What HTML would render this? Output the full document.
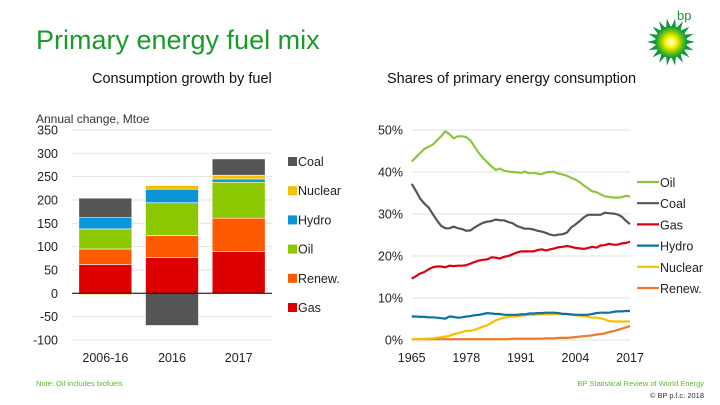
<!DOCTYPE html>
<html><head><meta charset="utf-8"><style>
body{margin:0;width:720px;height:405px;background:#fff;overflow:hidden;font-family:"Liberation Sans",sans-serif;}
svg{display:block}
</style></head><body>
<svg width="720" height="405">
<defs><radialGradient id="sun"><stop offset="0" stop-color="#fff"/><stop offset="0.35" stop-color="#fff200"/><stop offset="0.6" stop-color="#9bd000"/><stop offset="1" stop-color="#009a3e"/></radialGradient></defs>
<text x="36" y="49" font-size="27" fill="#1a9a2a">Primary energy fuel mix</text>
<g>
<text x="677" y="20" font-size="13" fill="#1a9a2a">bp</text>
<g id="petals"></g>
</g>
<text x="92" y="83" font-size="14.5" fill="#111">Consumption growth by fuel</text>
<text x="387" y="83" font-size="14.5" fill="#111">Shares of primary energy consumption</text>
<text x="36" y="123" font-size="12" fill="#333">Annual change, Mtoe</text>
<g id="left"></g>
<g id="right"></g>
<text x="36" y="386" font-size="7.5" fill="#5cb82e">Note: Oil includes biofuels</text>
<text x="704" y="386" font-size="7.5" fill="#5cb82e" text-anchor="end">BP Statistical Review of World Energy</text>
<text x="704" y="398" font-size="7.5" fill="#333" text-anchor="end">© BP p.l.c. 2018</text>
</svg>
<script>
const NS="http://www.w3.org/2000/svg";
function mk(p,t,a){const e=document.createElementNS(NS,t);for(const k in a)e.setAttribute(k,a[k]);p.appendChild(e);return e;}
// logo
const pg=document.getElementById('petals');
for(let i=0;i<18;i++){const a=i*20*Math.PI/180;const p=mk(pg,'polygon',{points:[[671+24*Math.cos(a),42+24*Math.sin(a)],[671+13*Math.cos(a+0.22),42+13*Math.sin(a+0.22)],[671+13*Math.cos(a-0.22),42+13*Math.sin(a-0.22)]].map(q=>q.join(',')).join(' '),fill:'#0a9a3a'});}
mk(pg,'circle',{cx:671,cy:42,r:16,fill:'url(#sun)'});

// LEFT chart data
const barCats=["2006-16","2016","2017"];
const fuels=["Gas","Renew.","Oil","Hydro","Nuclear","Coal"];
const gasVals=[62,77,90];
const renewVals=[33,47,71];
const oilVals=[43,70,77];
const hydroVals=[24,29,7];
const nuclearVals=[-3,8,8];
const coalVals=[42,-69,35];
const yTicksL=[350,300,250,200,150,100,50,0,-50,-100];
const colorsL={"Gas":"#de0000","Renew.":"#ff5a00","Oil":"#8cc800","Hydro":"#0a95d8","Nuclear":"#f5c000","Coal":"#555555"};
const seriesL=[gasVals,renewVals,oilVals,hydroVals,nuclearVals,coalVals];
const L=document.getElementById('left');
const yL=v=>293.3-v*(210/450);
const x0=72,x1=272,bw=53;
const xL=i=>x0+(x1-x0)/3*(i+0.5);
yTicksL.forEach(t=>{
 const g=mk(L,'line',{x1:x0,x2:x1,y1:yL(t),y2:yL(t),stroke:'#e2e2e2','stroke-width':1});
 
 
 const tx=mk(L,'text',{x:58,y:yL(t)+4.5,'font-size':12.5,fill:'#222','text-anchor':'end'});tx.textContent=t;
 
 
});
barCats.forEach((c,i)=>{
 let pos=0,neg=0;
 seriesL.forEach((s,j)=>{
  const v=s[i];let y0,y1;
  if(v>=0){y0=pos;y1=pos+v;pos=y1;}else{y0=neg+v;y1=neg;neg=y0;}
  const r=mk(L,'rect',{x:xL(i)-bw/2,y:yL(y1),width:bw,height:yL(y0)-yL(y1),fill:colorsL[fuels[j]],stroke:'#fff','stroke-width':0.6});
  
  
 });
 const tx=mk(L,'text',{x:xL(i),y:362,'font-size':12.5,fill:'#222','text-anchor':'middle'});tx.textContent=c;
 
 
});
const z=mk(L,'line',{x1:x0,x2:x1,y1:yL(0),y2:yL(0),stroke:'#000','stroke-width':1});


const legOrder=["Coal","Nuclear","Hydro","Oil","Renew.","Gas"];
legOrder.forEach((f,k)=>{
 const y=166+k*29.2;
 const r=mk(L,'rect',{x:288,y:y-9,width:9,height:9,fill:colorsL[f]});
 
 
 const t=mk(L,'text',{x:298,y:y,'font-size':12.5,fill:'#222'});t.textContent=f;
 
 
});

// RIGHT chart data
const startYear=1965;
const xTicksR=[1965,1978,1991,2004,2017];
const yTicksR=[0,10,20,30,40,50];
const oilShare=[42.5,43.5,44.5,45.5,46,46.5,47.5,48.5,49.7,49,48,48.5,48.5,48.3,47.5,46,44.5,43.3,42.3,41.3,40.5,40.8,40.3,40.1,40,39.9,39.8,40.1,39.7,39.8,39.6,39.5,39.9,40,40,39.6,39.4,39.1,38.6,38.2,37.6,36.8,36.1,35.4,35.2,34.7,34.2,34.1,33.9,33.9,34,34.3,34.2];
const coalShare=[37.2,35.5,33.7,32.5,31.6,30,28.5,27.2,26.6,26.6,27,26.6,26.4,26,26.1,26.8,27.4,27.9,28.2,28.3,28.7,28.5,28.5,28.1,27.8,27.2,26.8,26.5,26.5,26.3,26,25.8,25.5,25.1,24.9,25.1,25.2,25.6,26.8,27.5,28.3,29.2,29.8,29.8,29.8,29.8,30.3,30.2,30.1,29.9,29.4,28.4,27.6];
const gasShare=[14.6,15.2,15.8,16.2,16.8,17.3,17.5,17.5,17.3,17.7,17.6,17.7,17.7,17.8,18.2,18.6,18.9,19.1,19.2,19.7,19.6,19.4,19.8,20,20.4,20.8,21.1,21.1,21.1,21.1,21.4,21.6,21.3,21.6,21.8,22.1,22.2,22.4,22.2,21.9,21.8,21.7,21.9,22.2,22,22.5,22.6,22.9,22.7,22.7,23,23.1,23.4];
const hydroShare=[5.6,5.6,5.5,5.5,5.4,5.4,5.3,5.2,5.1,5.6,5.5,5.3,5.4,5.6,5.7,5.9,6.0,6.2,6.4,6.3,6.2,6.2,6.0,6.0,6.0,6.0,6.1,6.1,6.3,6.3,6.4,6.4,6.5,6.5,6.5,6.4,6.2,6.2,6.1,6.0,6.0,6.0,6.0,6.2,6.4,6.5,6.5,6.5,6.7,6.8,6.8,6.9,6.9];
const nuclearShare=[0.2,0.2,0.2,0.3,0.3,0.4,0.5,0.7,0.8,1.0,1.4,1.6,1.9,2.2,2.2,2.4,2.8,3.2,3.5,4.1,4.7,5.0,5.3,5.5,5.6,5.7,5.8,5.9,6.0,6.0,6.1,6.1,6.1,6.1,6.2,6.2,6.3,6.2,6.0,5.9,5.8,5.7,5.5,5.3,5.3,5.2,4.9,4.5,4.4,4.4,4.4,4.4,4.4];
const renewShare=[0.2,0.2,0.2,0.2,0.2,0.2,0.2,0.2,0.2,0.2,0.2,0.2,0.2,0.2,0.2,0.2,0.2,0.2,0.2,0.2,0.2,0.2,0.2,0.2,0.3,0.3,0.3,0.3,0.3,0.3,0.3,0.3,0.4,0.4,0.4,0.5,0.5,0.5,0.6,0.7,0.8,0.9,1.0,1.1,1.3,1.4,1.6,1.9,2.1,2.4,2.7,3.0,3.3];
const seriesNames=["Oil","Coal","Gas","Hydro","Nuclear","Renew."];
const seriesR=[oilShare,coalShare,gasShare,hydroShare,nuclearShare,renewShare];
const colorsR=["#8cc63f","#555555","#de0010","#0a72a8","#f5c000","#f07828"];
const R=document.getElementById('right');
const px0=411.7,px1=630;
const xR=yr=>px0+(yr-1965)*(px1-px0)/52;
const yR=v=>340-v*4.2;
yTicksR.forEach(t=>{
 const g=mk(R,'line',{x1:px0,x2:px1,y1:yR(t),y2:yR(t),stroke:'#e2e2e2','stroke-width':1});
 
 
 const tx=mk(R,'text',{x:403,y:yR(t)+4.5,'font-size':12.5,fill:'#222','text-anchor':'end'});tx.textContent=t+'%';
 
 
});
xTicksR.forEach(yr=>{
 const tx=mk(R,'text',{x:xR(yr),y:362,'font-size':12.5,fill:'#222','text-anchor':'middle'});tx.textContent=yr;
 
 
});
seriesR.slice().reverse().forEach((s,ri)=>{
 const k=seriesR.length-1-ri;
 const pts=s.map((v,i)=>xR(startYear+i).toFixed(1)+','+yR(v).toFixed(1)).join(' ');
 const p=mk(R,'polyline',{points:pts,fill:'none',stroke:colorsR[k],'stroke-width':2.2,'stroke-linejoin':'round'});
 
 
});
seriesNames.forEach((n,k)=>{
 const y=187+k*21.2;
 const l=mk(R,'line',{x1:637,x2:659,y1:y-5,y2:y-5,stroke:colorsR[k],'stroke-width':2.2});
 
 
 const t=mk(R,'text',{x:660,y:y,'font-size':12.5,fill:'#222'});t.textContent=n;
 
 
});
</script>
</body></html>
